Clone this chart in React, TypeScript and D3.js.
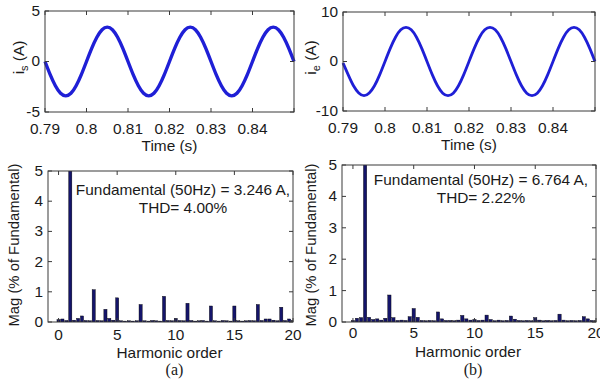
import React from 'react';
import * as d3 from 'd3';

// waveform samples (s, A)
const waveTime = [0.79, 0.79125, 0.7925, 0.79375, 0.795, 0.79625, 0.7975, 0.79875, 0.8, 0.80125, 0.8025, 0.80375, 0.805, 0.80625, 0.8075, 0.80875, 0.81, 0.81125, 0.8125, 0.81375, 0.815, 0.81625, 0.8175, 0.81875, 0.82, 0.82125, 0.8225, 0.82375, 0.825, 0.82625, 0.8275, 0.82875, 0.83, 0.83125, 0.8325, 0.83375, 0.835, 0.83625, 0.8375, 0.83875, 0.84, 0.84125, 0.8425, 0.84375, 0.845, 0.84625, 0.8475, 0.84875, 0.85];
const currentA = [0, -1.3, -2.4, -3.15, -3.4, -3.15, -2.4, -1.3, 0, 1.3, 2.4, 3.15, 3.4, 3.15, 2.4, 1.3, 0, -1.3, -2.4, -3.15, -3.4, -3.15, -2.4, -1.3, 0, 1.3, 2.4, 3.15, 3.4, 3.15, 2.4, 1.3, 0, -1.3, -2.4, -3.15, -3.4, -3.15, -2.4, -1.3, 0, 1.3, 2.4, 3.15, 3.4, 3.15, 2.4, 1.3, 0];
const currentB = [-0.3, -2.7, -4.9, -6.35, -6.9, -6.35, -4.9, -2.65, 0, 2.65, 4.9, 6.4, 6.9, 6.4, 4.9, 2.65, 0, -2.65, -4.9, -6.4, -6.9, -6.4, -4.9, -2.65, 0, 2.65, 4.9, 6.4, 6.9, 6.4, 4.9, 2.65, 0, -2.65, -4.9, -6.4, -6.9, -6.4, -4.9, -2.65, 0, 2.65, 4.9, 6.4, 6.9, 6.4, 4.9, 2.65, 0];

// FFT spectrum (harmonic order, % of fundamental)
const harmOrder = [0, 0.33, 0.67, 1, 1.33, 1.67, 2, 2.33, 2.67, 3, 3.33, 3.67, 4, 4.33, 4.67, 5, 5.33, 5.67, 6, 6.33, 6.67, 7, 7.33, 7.67, 8, 8.33, 8.67, 9, 9.33, 9.67, 10, 10.33, 10.67, 11, 11.33, 11.67, 12, 12.33, 12.67, 13, 13.33, 13.67, 14, 14.33, 14.67, 15, 15.33, 15.67, 16, 16.33, 16.67, 17, 17.33, 17.67, 18, 18.33, 18.67, 19, 19.33, 19.67, 20];
const magA = [0.08, 0.1, 0.05, 100, 0.06, 0.12, 0.2, 0.05, 0.04, 1.07, 0.05, 0.04, 0.42, 0.12, 0.06, 0.8, 0.04, 0.03, 0.04, 0.03, 0.04, 0.58, 0.04, 0.03, 0.05, 0.04, 0.03, 0.85, 0.05, 0.04, 0.12, 0.05, 0.04, 0.62, 0.05, 0.03, 0.04, 0.05, 0.03, 0.53, 0.04, 0.03, 0.05, 0.04, 0.03, 0.53, 0.04, 0.03, 0.04, 0.05, 0.04, 0.58, 0.05, 0.1, 0.1, 0.06, 0.04, 0.49, 0.05, 0.1, 0.05];
const magB = [0.05, 0.12, 0.14, 100, 0.15, 0.08, 0.1, 0.06, 0.12, 0.86, 0.14, 0.05, 0.06, 0.05, 0.17, 0.43, 0.15, 0.05, 0.04, 0.05, 0.04, 0.32, 0.1, 0.05, 0.05, 0.04, 0.06, 0.21, 0.1, 0.06, 0.08, 0.05, 0.06, 0.22, 0.08, 0.04, 0.06, 0.04, 0.05, 0.19, 0.09, 0.05, 0.04, 0.05, 0.04, 0.14, 0.06, 0.04, 0.05, 0.04, 0.05, 0.25, 0.06, 0.04, 0.05, 0.04, 0.05, 0.17, 0.1, 0.05, 0.04];

const timeTicks = [0.79, 0.8, 0.81, 0.82, 0.83, 0.84];
const timeTickLabels = ['0.79', '0.8', '0.81', '0.82', '0.83', '0.84'];
const harmTicks = [0, 5, 10, 15, 20];
const magTicks = [0, 1, 2, 3, 4, 5];

const FONT = 'Liberation Sans, Arial, sans-serif';
const BOX = '#3a3a3a';

function Txt({ x, y, children, anchor = 'middle', size = 14, rot = false, sx = 1.1, dy }: any) {
  return (
    <text
      transform={`translate(${x},${y})${rot ? ' rotate(-90)' : ''} scale(${sx},1)`}
      textAnchor={anchor}
      fontSize={size}
      fontFamily={FONT}
      fill="#1a1a1a"
      dy={dy}
    >
      {children}
    </text>
  );
}

function Frame({ x, y, xTicks, yTicks }: any) {
  const [x0, x1] = x.range();
  const [y0, y1] = y.range();
  return (
    <g stroke={BOX} strokeWidth={1} fill="none">
      <rect x={x0} y={y1} width={x1 - x0} height={y0 - y1} />
      {xTicks.map((t: number) => (
        <g key={'x' + t}>
          <line x1={x(t)} x2={x(t)} y1={y0} y2={y0 - 4} />
          <line x1={x(t)} x2={x(t)} y1={y1} y2={y1 + 4} />
        </g>
      ))}
      {yTicks.map((t: number) => (
        <g key={'y' + t}>
          <line x1={x0} x2={x0 + 4} y1={y(t)} y2={y(t)} />
          <line x1={x1} x2={x1 - 4} y1={y(t)} y2={y(t)} />
        </g>
      ))}
    </g>
  );
}

function WavePanel({ left, right, top, bottom, lim, values, sub, labelX, stroke, tickY, titleY }: any) {
  const x = d3.scaleLinear().domain([0.79, 0.85]).range([left, right]);
  const y = d3.scaleLinear().domain([-lim, lim]).range([bottom, top]);
  const yTicks = [-lim, 0, lim];
  const line = d3.line<number>()
    .x((_, i) => x(waveTime[i]))
    .y((d) => y(d))
    .curve(d3.curveNatural);
  return (
    <g>
      <path d={line(values) || ''} fill="none" stroke="#1f1fd6" strokeWidth={stroke} strokeLinejoin="round" />
      <Frame x={x} y={y} xTicks={[...timeTicks, 0.85]} yTicks={yTicks} />
      {yTicks.map((t) => (
        <Txt key={t} x={left - 5} y={y(t)} anchor="end" dy="0.35em">{String(t)}</Txt>
      ))}
      {timeTicks.map((t, i) => (
        <Txt key={t} x={x(t)} y={tickY}>{timeTickLabels[i]}</Txt>
      ))}
      <Txt x={(left + right) / 2} y={titleY}>Time (s)</Txt>
      <text
        transform={`translate(${labelX},${(top + bottom) / 2 - 4}) rotate(-90) scale(1.1,1)`}
        textAnchor="middle" fontSize={14} fontFamily={FONT} fill="#1a1a1a"
      >
        i<tspan fontSize={10} dy={4}>{sub}</tspan><tspan dy={-4}> (A)</tspan>
      </text>
    </g>
  );
}

function HarmPanel({ id, left, right, top, bottom, values, note1, note2, noteX, noteY, labelX, tickY, titleY, caption }: any) {
  const x = d3.scaleLinear().domain([-0.9, 20]).range([left, right]);
  const y = d3.scaleLinear().domain([0, 5]).range([bottom, top]);
  const bw = x(0.27) - x(0);
  return (
    <g>
      <defs>
        <clipPath id={id}>
          <rect x={left} y={top} width={right - left} height={bottom - top} />
        </clipPath>
      </defs>
      <g clipPath={`url(#${id})`}>
        {harmOrder.map((h, i) => (
          <rect
            key={i}
            x={x(h) - bw / 2}
            y={y(values[i])}
            width={bw}
            height={bottom - y(values[i])}
            fill="#14146a"
            stroke="#000"
            strokeWidth={0.4}
          />
        ))}
      </g>
      <Frame x={x} y={y} xTicks={harmTicks} yTicks={magTicks} />
      {magTicks.map((t) => (
        <Txt key={t} x={left - 5} y={y(t)} anchor="end" dy="0.35em">{String(t)}</Txt>
      ))}
      {harmTicks.map((t) => (
        <Txt key={t} x={x(t)} y={tickY}>{String(t)}</Txt>
      ))}
      <Txt x={noteX} y={noteY}>{note1}</Txt>
      <Txt x={noteX} y={noteY + 18}>{note2}</Txt>
      <Txt x={(left + right) / 2 - 1} y={titleY}>Harmonic order</Txt>
      <Txt x={labelX} y={245} rot sx={1.06}>Mag (% of Fundamental)</Txt>
      <text x={(left + right) / 2 + 4} y={375} textAnchor="middle" fontSize={16}
        fontFamily="Liberation Serif, Times New Roman, serif" fill="#1a1a1a">{caption}</text>
    </g>
  );
}

export default function App() {
  return (
    <svg width={600} height={387} style={{ position: 'absolute', left: 0, top: 0, background: '#fff' }}>
      <rect width={600} height={387} fill="#fff" />
      <WavePanel left={45} right={294} top={11} bottom={112} lim={5} values={currentA} sub="s"
        labelX={24} stroke={3.4} tickY={134} titleY={151} />
      <WavePanel left={343} right={595} top={12} bottom={111} lim={10} values={currentB} sub="e"
        labelX={316} stroke={2.8} tickY={133} titleY={150} />
      <HarmPanel id="clipA" left={48} right={293} top={171} bottom={322} values={magA}
        note1="Fundamental (50Hz) = 3.246 A," note2="THD= 4.00%" noteX={183} noteY={195}
        labelX={19} tickY={340} titleY={358} caption="(a)" />
      <HarmPanel id="clipB" left={342} right={596} top={165} bottom={322} values={magB}
        note1="Fundamental (50Hz) = 6.764 A," note2="THD= 2.22%" noteX={481} noteY={185}
        labelX={316} tickY={338} titleY={357} caption="(b)" />
    </svg>
  );
}
